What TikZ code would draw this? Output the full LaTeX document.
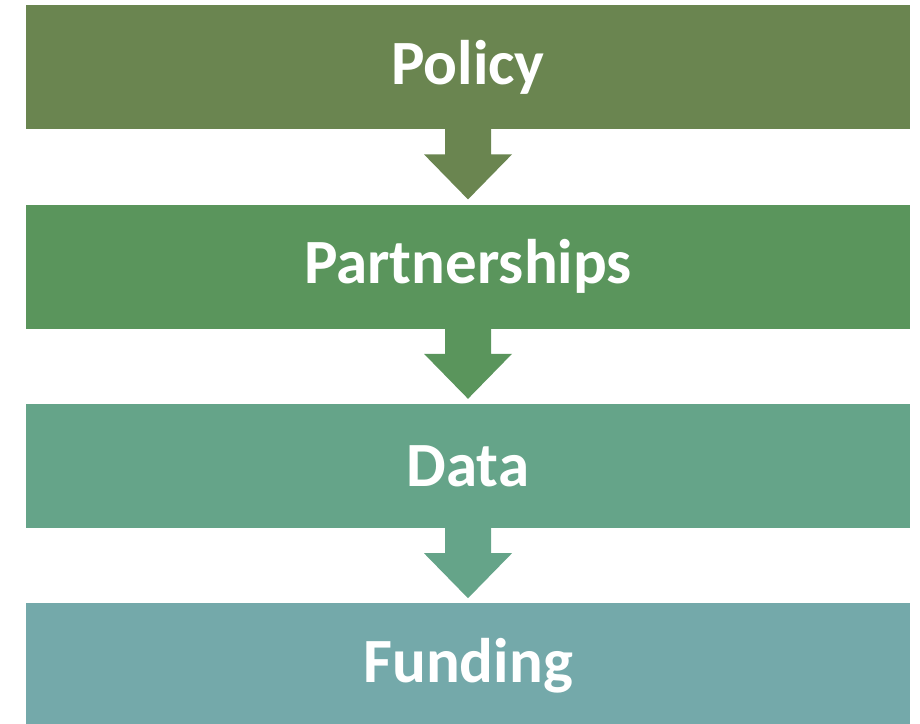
\documentclass[tikz,border=0pt]{standalone}
\usepackage{fontspec}
\newfontfamily\boxfont{Carlito}
\usetikzlibrary{calc,positioning}
\definecolor{policygreen}{RGB}{106,133,80}
\definecolor{partnergreen}{RGB}{90,149,92}
\definecolor{datagreen}{RGB}{101,164,137}
\definecolor{fundteal}{RGB}{116,169,170}
\tikzset{
  stage/.style     = {rectangle, draw=none, minimum width=884pt, minimum height=124pt,
                      inner sep=0pt, text=white,
                      font=\boxfont\bfseries\fontsize{63}{63}\selectfont},
  flow arrow/.style= {draw=none},
}

\begin{document}
\begin{tikzpicture}[x=1pt,y=1pt, node distance=75pt]
  \useasboundingbox (0,0) rectangle (920,-723);

  % =======================================================================
  %  the four stages, top to bottom
  % =======================================================================
  \node[stage,fill=policygreen,anchor=north] (policy) at (468,-5) {Policy};
  \node[stage,fill=partnergreen,below=of policy] (partner) {Partnerships};
  \node[stage,fill=datagreen,below=of partner] (data) {Data};
  \node[stage,fill=fundteal,below=of data] (fund) {Funding};

  % ---- block arrows between the stages -----------------------------------
  \foreach \a/\b/\c in {policy/partner/policygreen,
                        partner/data/partnergreen,
                        data/fund/datagreen} {
    \fill[flow arrow,fill=\c] ($(\a.south)+(-23,1)$) -- ++(0,-26) -- ++(-21,0)
          -- ($(\b.north)+(0,5)$)
          -- ($(\a.south)+(44,-25)$) -- ++(-21,0) -- ($(\a.south)+(23,1)$) -- cycle;
  }
\end{tikzpicture}
\end{document}
